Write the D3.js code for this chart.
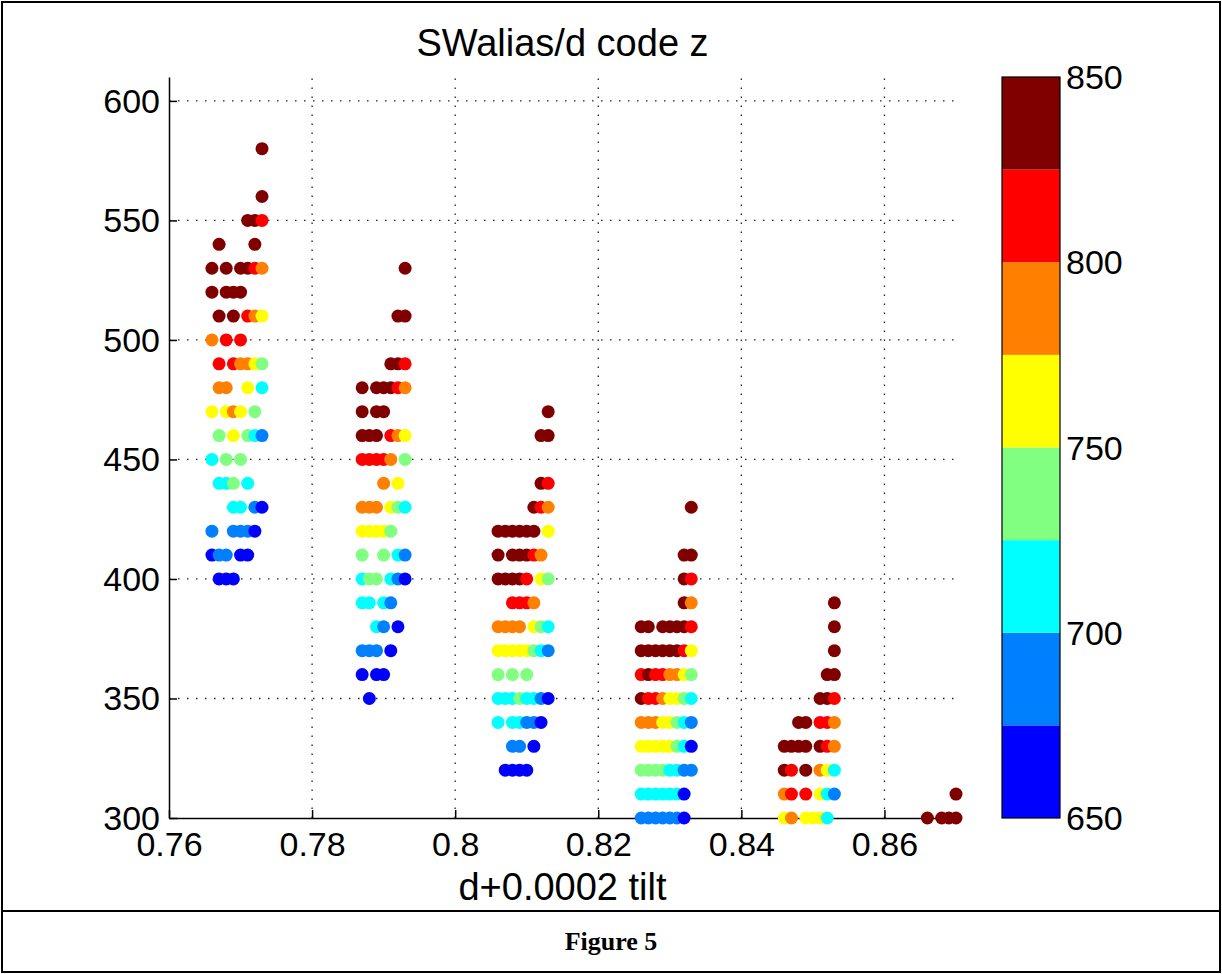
<!DOCTYPE html>
<meta charset="utf-8">
<style>
body { margin: 0; background: #fff; }
text { font-family: "Liberation Sans", Arial, Helvetica, sans-serif; fill: #000; }
.grid line { stroke: #222; stroke-width: 1.3; stroke-dasharray: 1.5,7.5; }
.axis path, .axis line { stroke: #000; stroke-width: 1.5; }
</style>
<body>
<svg id="fig" width="1222" height="974"></svg>
<script src="https://cdnjs.cloudflare.com/ajax/libs/d3/7.8.5/d3.min.js"></script>
<script>
// texts
var title = "SWalias/d code z";
var xLabel = "d+0.0002 tilt";
var caption = "Figure 5";

// ticks
var xTicks = [0.76, 0.78, 0.8, 0.82, 0.84, 0.86];
var yTicks = [300, 350, 400, 450, 500, 550, 600];
var zTicks = [650, 700, 750, 800, 850];

// jet(8) colour bands for z
var jet8 = ["#0000ff", "#0080ff", "#00ffff", "#80ff80", "#ffff00", "#ff8000", "#ff0000", "#800000"];

// each group of points starts at this d value, columns step by 0.001
var groupStart = [0.766, 0.786, 0.806, 0.826, 0.846, 0.866];
var colStep = 0.001;

// rows: [y value, z band per column]  ('.' = no point, 0..7 = band of z, 650 + 25*band)
var group1 = [
  [580, ".......7"], [560, ".......7"], [550, ".....776"], [540, ".7....7."],
  [530, "7.7.7765"], [520, "7.777..."], [510, ".7.7.654"], [500, "5.6.6..."],
  [490, ".6.65543"], [480, ".55..4.2"], [470, "4.454.3."], [460, ".3.4.321"],
  [450, "2.3.3..."], [440, ".223.2.."], [430, "...22.10"], [420, "1..1110."],
  [410, "011.00.."], [400, ".000...."]
];
var group2 = [
  [530, ".......7"], [510, "......77"], [490, ".....776"], [480, ".7.77765"],
  [470, ".7.77..."], [460, ".777.654"], [450, ".66665.3"], [440, "....5.4."],
  [430, ".555.432"], [420, ".44443.."], [410, ".3..3.21"], [400, ".233.210"],
  [390, ".22.21.."], [380, "...21.0."], [370, ".111.0.."], [360, ".0.00..."],
  [350, "..0....."]
];
var group3 = [
  [470, ".......7"], [460, "......77"], [440, "......76"], [430, ".....765"],
  [420, "777777.4"], [410, "7.77765."], [400, "77776.43"], [390, "..6665.."],
  [380, "5555.432"], [370, "44444321"], [360, "3.3.3..."], [350, "22232210"],
  [340, "2.22110."], [330, "..11.0.."], [320, ".0000..."]
];
var group4 = [
  [430, ".......7"], [410, "......77"], [400, "......76"], [390, "......75"],
  [380, "77.77776"], [370, "77777764"], [360, "67665543"], [350, "76654432"],
  [340, "55544321"], [330, "44444320"], [320, "33332211"], [310, "2222220."],
  [300, "1111110."]
];
var group5 = [
  [390, ".......7"], [380, ".......7"], [370, ".......7"], [360, "......77"],
  [350, ".....776"], [340, "..77.665"], [330, "7777.765"], [320, "76.7.542"],
  [310, "56.6.421"], [300, "45.4442."]
];
var group6 = [
  [310, "....7"], [300, "7.777"]
];
var groups = [group1, group2, group3, group4, group5, group6];

// flatten into points
var points = [];
groups.forEach(function(rows, g) {
  rows.forEach(function(r) {
    r[1].split("").forEach(function(c, k) {
      if (c === ".") return;
      points.push({ d: groupStart[g] + k * colStep, v: r[0], z: 650 + 25 * (+c) + 12.5 });
    });
  });
});

var svg = d3.select("#fig");
var W = 1222, H = 974;

svg.append("rect").attr("x", 0).attr("y", 0).attr("width", W).attr("height", H).attr("fill", "#fff");

// figure frame and caption strip
svg.append("rect").attr("x", 2).attr("y", 2).attr("width", W - 4).attr("height", H - 4)
  .attr("fill", "none").attr("stroke", "#000").attr("stroke-width", 2);
svg.append("line").attr("x1", 2).attr("x2", W - 2).attr("y1", 911).attr("y2", 911)
  .attr("stroke", "#000").attr("stroke-width", 2);
svg.append("text").attr("x", W / 2).attr("y", 950).attr("text-anchor", "middle")
  .style("font-family", "'Liberation Serif', 'Times New Roman', serif")
  .style("font-weight", "bold").style("font-size", "26px").text(caption);

// axes area
var plot = { left: 169, right: 956, top: 77, bottom: 818 };
var x = d3.scaleLinear().domain([0.76, 0.87]).range([plot.left, plot.right]);
var y = d3.scaleLinear().domain([300, 610]).range([plot.bottom, plot.top]);
var color = d3.scaleQuantize().domain([650, 850]).range(jet8);

// grid
var grid = svg.append("g").attr("class", "grid");
grid.selectAll(".gx").data(xTicks.slice(1)).enter().append("line")
  .attr("x1", function(d) { return x(d); }).attr("x2", function(d) { return x(d); })
  .attr("y1", plot.bottom).attr("y2", plot.top);
grid.selectAll(".gy").data(yTicks.slice(1)).enter().append("line")
  .attr("y1", function(d) { return y(d); }).attr("y2", function(d) { return y(d); })
  .attr("x1", plot.left).attr("x2", plot.right);

// axes (MATLAB style: ticks inward)
var xAxis = svg.append("g").attr("class", "axis").attr("transform", "translate(0," + plot.bottom + ")")
  .call(d3.axisBottom(x).tickValues(xTicks).tickSizeInner(-8).tickSizeOuter(0).tickPadding(14)
    .tickFormat(function(d) { return String(+d.toFixed(2)); }));
xAxis.selectAll("text").style("font-size", "34px").attr("dy", "0.71em");

var yAxis = svg.append("g").attr("class", "axis").attr("transform", "translate(" + plot.left + ",0)")
  .call(d3.axisLeft(y).tickValues(yTicks).tickSizeInner(-8).tickSizeOuter(0).tickPadding(9));
yAxis.selectAll("text").style("font-size", "34px").attr("dy", "0.33em");

// points
svg.append("g").selectAll("circle").data(points).enter().append("circle")
  .attr("cx", function(d) { return x(d.d); })
  .attr("cy", function(d) { return y(d.v); })
  .attr("r", 6.5)
  .attr("fill", function(d) { return color(d.z); });

// title and x label
svg.append("text").attr("x", (plot.left + plot.right) / 2).attr("y", 56).attr("text-anchor", "middle")
  .style("font-size", "38px").text(title);
svg.append("text").attr("x", (plot.left + plot.right) / 2).attr("y", 900).attr("text-anchor", "middle")
  .style("font-size", "38px").text(xLabel);

// colour bar
var cb = { left: 1002, width: 58 };
var zScale = d3.scaleLinear().domain([650, 850]).range([plot.bottom, plot.top]);
var bands = d3.range(jet8.length).map(function(i) { return 650 + 25 * i; });
svg.append("g").selectAll("rect").data(bands).enter().append("rect")
  .attr("x", cb.left).attr("width", cb.width)
  .attr("y", function(d) { return zScale(d + 25); })
  .attr("height", function(d) { return zScale(d) - zScale(d + 25); })
  .attr("fill", function(d) { return color(d + 12.5); });
svg.append("rect").attr("x", cb.left).attr("y", plot.top).attr("width", cb.width)
  .attr("height", plot.bottom - plot.top).attr("fill", "none").attr("stroke", "#000").attr("stroke-width", 1.2);
svg.append("g").selectAll("text").data(zTicks).enter().append("text")
  .attr("x", cb.left + cb.width + 6).attr("y", function(d) { return zScale(d); })
  .attr("dy", "0.36em").style("font-size", "34px").text(function(d) { return d; });
</script>
</body>
